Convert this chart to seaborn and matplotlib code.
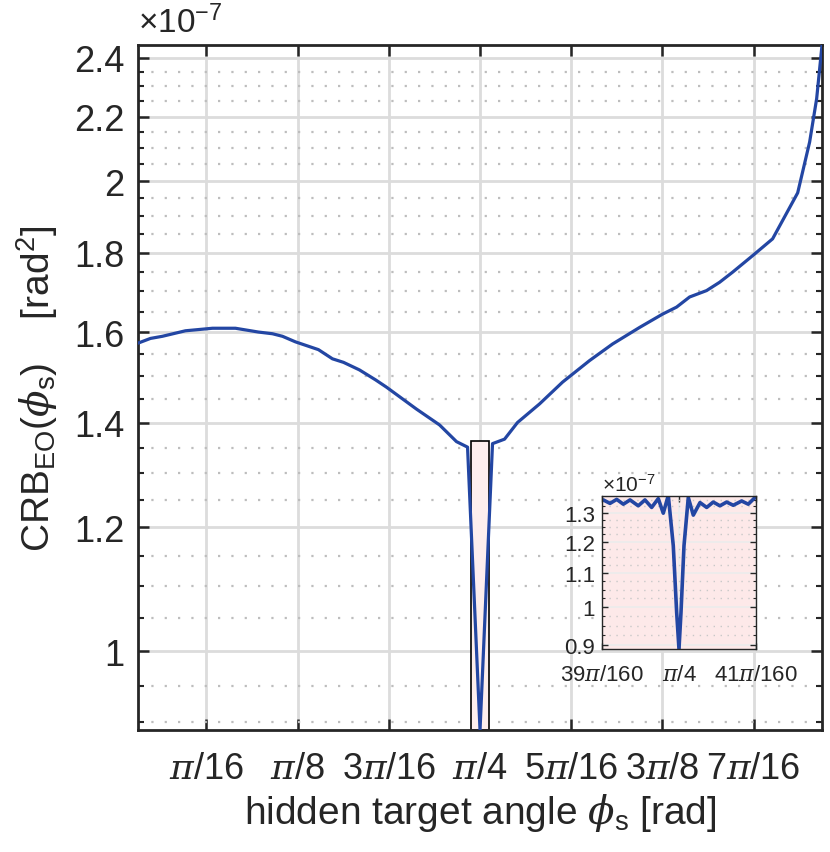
import numpy as np
import matplotlib
matplotlib.use("Agg")
import matplotlib.pyplot as plt
import matplotlib.patches as mpatches
from matplotlib.ticker import FixedLocator, FixedFormatter, NullFormatter
import seaborn as sns
import pandas as pd

# ---------------- data (x in units of pi/16, y in units of 1e-7 rad^2) -------------
main_u = [0.25, 0.386, 0.517, 0.770, 1.066, 1.318, 1.570, 1.724, 1.834, 1.976,
          2.228, 2.382, 2.503, 2.678, 2.854, 2.974, 3.303, 3.556, 3.742, 3.863,
          4.000,
          4.137, 4.269, 4.411, 4.653, 4.905, 5.201, 5.453, 5.750, 6.002, 6.155,
          6.298, 6.484, 6.627, 6.770, 6.989, 7.208, 7.483, 7.614, 7.691, 7.750]
main_crb = [1.575, 1.586, 1.591, 1.604, 1.610, 1.610, 1.601, 1.597, 1.591, 1.578,
            1.560, 1.539, 1.531, 1.514, 1.492, 1.476, 1.429, 1.396, 1.362, 1.351,
            0.890,
            1.358, 1.367, 1.401, 1.440, 1.487, 1.535, 1.573, 1.612, 1.644, 1.661,
            1.686, 1.702, 1.723, 1.749, 1.792, 1.837, 1.966, 2.119, 2.259, 2.445]

inset_u = [3.9017, 3.9104, 3.9191, 3.9277, 3.9364, 3.9471, 3.9558, 3.9645, 3.9731,
           3.9796, 3.9861, 3.9926, 3.9970, 4.0000, 4.0026, 4.0065, 4.0121, 4.0186,
           4.0273, 4.0360, 4.0445, 4.0532, 4.0619, 4.0705, 4.0814, 4.0900, 4.0987]
inset_crb = [1.349, 1.336, 1.351, 1.333, 1.349, 1.327, 1.349, 1.321, 1.354,
             1.300, 1.366, 1.187, 0.985, 0.890, 0.985, 1.187, 1.358, 1.293,
             1.339, 1.321, 1.341, 1.327, 1.341, 1.329, 1.345, 1.333, 1.358]

xtick_u = [1, 2, 3, 4, 5, 6, 7]
xtick_labels = [r'$\pi$/16', r'$\pi$/8', r'3$\pi$/16', r'$\pi$/4',
                r'5$\pi$/16', r'3$\pi$/8', r'7$\pi$/16']
ytick_vals = [1, 1.2, 1.4, 1.6, 1.8, 2, 2.2, 2.4]
ytick_labels = ['1', '1.2', '1.4', '1.6', '1.8', '2', '2.2', '2.4']

main_xlim_u = [0.25, 7.75]
main_ylim = [0.89, 2.445]

inset_xlim_u = [3.9, 4.1]
inset_ylim = [0.89, 1.364]
inset_xtick_u = [3.9, 4.0, 4.1]
inset_xtick_labels = [r'39$\pi$/160', r'$\pi$/4', r'41$\pi$/160']
inset_ytick_vals = [0.9, 1.0, 1.1, 1.2, 1.3]
inset_ytick_labels = ['0.9', '1', '1.1', '1.2', '1.3']

# ---------------- style ----------------
sns.set_style("ticks")
plt.rcParams['font.family'] = ['Liberation Sans', 'DejaVu Sans']
plt.rcParams['mathtext.fontset'] = 'custom'
plt.rcParams['mathtext.rm'] = 'Liberation Sans'
plt.rcParams['mathtext.sf'] = 'Liberation Sans'
plt.rcParams['mathtext.it'] = 'DejaVu Serif:italic'
plt.rcParams['mathtext.bf'] = 'Liberation Sans:bold'

line_color = '#2346a3'
text_color = '#262626'
grid_color = '#dcdcdc'
pink = '#fde9e9'

scale = np.pi / 16
df_main = pd.DataFrame({'phi': np.array(main_u) * scale, 'crb': main_crb})
df_inset = pd.DataFrame({'phi': np.array(inset_u) * scale, 'crb': inset_crb})

fig = plt.figure(figsize=(8.30, 8.53), dpi=100)
ax = fig.add_axes([0.1663, 0.1430, 0.8241, 0.8030])

ax.set_yscale('log')
ax.set_xlim(main_xlim_u[0] * scale, main_xlim_u[1] * scale)
ax.set_ylim(*main_ylim)

# grid
ax.set_axisbelow(True)
ax.xaxis.set_major_locator(FixedLocator([u * scale for u in xtick_u]))
ax.xaxis.set_major_formatter(FixedFormatter(xtick_labels))
ax.yaxis.set_major_locator(FixedLocator(ytick_vals))
ax.yaxis.set_major_formatter(FixedFormatter(ytick_labels))
minor_y = [round(v, 2) for v in np.arange(0.90, 2.4001, 0.05)
           if all(abs(v - m) > 1e-6 for m in ytick_vals)]
ax.yaxis.set_minor_locator(FixedLocator(minor_y))
ax.yaxis.set_minor_formatter(NullFormatter())
ax.xaxis.set_minor_locator(FixedLocator([]))

ax.grid(True, which='major', color=grid_color, lw=2.0, ls='-')
ax.grid(True, which='minor', axis='y', color='#bdbdbd', lw=1.6, ls=(0, (1, 5)))

# zoom rectangle
rect = mpatches.Rectangle((inset_xlim_u[0] * scale, inset_ylim[0]),
                          (inset_xlim_u[1] - inset_xlim_u[0]) * scale,
                          inset_ylim[1] - inset_ylim[0],
                          facecolor='#fdeeee', edgecolor='black', lw=1.2, zorder=2)
ax.add_patch(rect)

sns.lineplot(data=df_main, x='phi', y='crb', ax=ax, color=line_color, lw=2.3,
             zorder=3, sort=False)

for sp in ax.spines.values():
    sp.set_linewidth(2.0)
    sp.set_color(text_color)
ax.tick_params(which='both', direction='in', top=True, right=True, color=text_color,
               labelcolor=text_color)
ax.tick_params(which='major', length=8, width=1.8, labelsize=26, pad=15)
ax.tick_params(which='minor', length=4, width=1.5)
ax.tick_params(axis='y', which='major', pad=10)

ax.set_xlabel(r'hidden target angle $\phi_{\mathrm{s}}$ [rad]', fontsize=28,
              color=text_color, labelpad=4)
ax.set_ylabel(r'CRB$_{\mathrm{EO}}$($\phi_{\mathrm{s}}$)    [rad$^{\mathrm{2}}$]',
              fontsize=28, color=text_color, labelpad=10)
ax.text(0.0, 1.008, r'$\times$10$^{\mathrm{-7}}$', transform=ax.transAxes,
        fontsize=24, color=text_color, ha='left', va='bottom')

# ---------------- inset ----------------
axi = fig.add_axes([0.7253, 0.2380, 0.1855, 0.1794])
axi.set_facecolor(pink)
axi.set_yscale('log')
axi.set_xlim(inset_xlim_u[0] * scale, inset_xlim_u[1] * scale)
axi.set_ylim(*inset_ylim)
axi.set_axisbelow(True)
axi.xaxis.set_major_locator(FixedLocator([u * scale for u in inset_xtick_u]))
axi.xaxis.set_major_formatter(FixedFormatter(inset_xtick_labels))
axi.yaxis.set_major_locator(FixedLocator(inset_ytick_vals))
axi.yaxis.set_major_formatter(FixedFormatter(inset_ytick_labels))
minor_yi = [round(v, 3) for v in np.arange(0.90, 1.3501, 0.025)
            if all(abs(v - m) > 1e-6 for m in inset_ytick_vals)]
axi.yaxis.set_minor_locator(FixedLocator(minor_yi))
axi.yaxis.set_minor_formatter(NullFormatter())
axi.xaxis.set_minor_locator(FixedLocator([]))
axi.grid(True, which='major', color='#ececec', lw=1.2, ls='-')
axi.grid(True, which='minor', axis='y', color='#c8c8c8', lw=1.0, ls=(0, (1, 4)))

sns.lineplot(data=df_inset, x='phi', y='crb', ax=axi, color=line_color, lw=2.6,
             sort=False)
for sp in axi.spines.values():
    sp.set_linewidth(1.0)
    sp.set_color(text_color)
axi.tick_params(which='both', direction='in', top=True, right=True, color=text_color,
                labelcolor=text_color)
axi.tick_params(which='major', length=4, width=1.0, labelsize=16, pad=5)
axi.tick_params(axis='x', which='major', pad=11)
axi.tick_params(which='minor', length=2, width=0.8)
axi.set_xlabel('')
axi.set_ylabel('')
axi.text(0.0, 1.01, r'$\times$10$^{\mathrm{-7}}$', transform=axi.transAxes,
         fontsize=15, color=text_color, ha='left', va='bottom')

fig.savefig('out.png', dpi=100)
